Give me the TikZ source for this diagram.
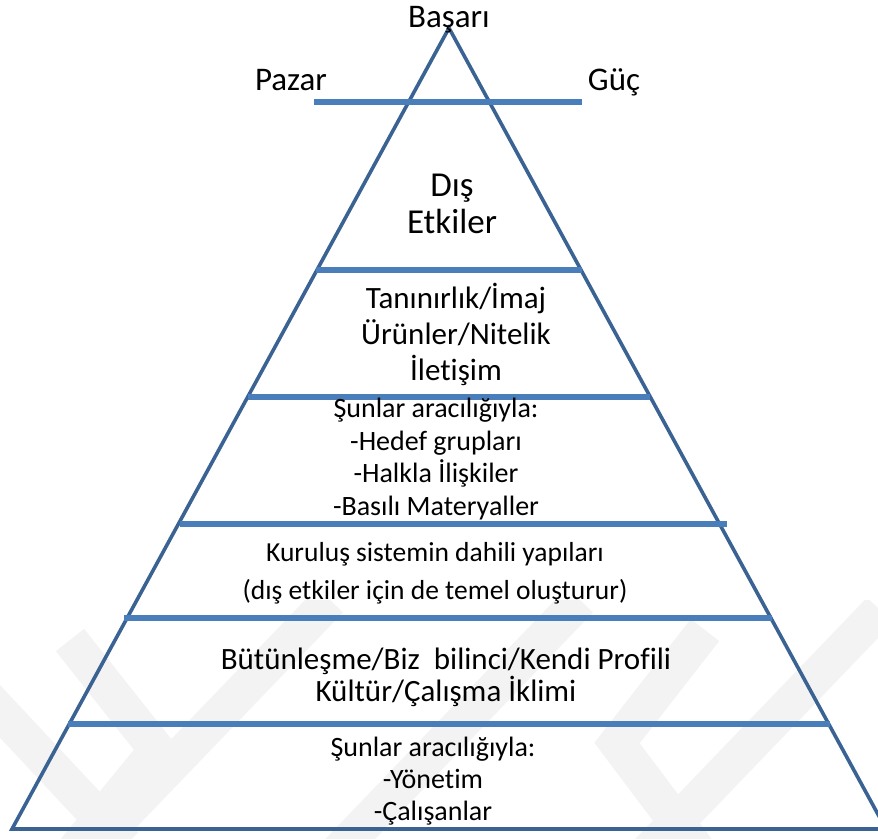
\documentclass[tikz,border=0pt]{standalone}
\usepackage{fontspec}
\setmainfont{Carlito}[Ligatures=NoCommon]
\begin{document}
\begin{tikzpicture}[x=1pt,y=-1pt,
  edge/.style={draw=edgeblue,line width=3.6pt,line join=miter},
  tier/.style={draw=tierblue,line width=5.2pt},
  emblem/.style={draw=wmgray,line width=36pt,line join=miter},
  lbl/.style={inner sep=0pt,align=center,text=black}]
\definecolor{edgeblue}{HTML}{3A6393}
\definecolor{tierblue}{HTML}{4A7EBB}
\definecolor{wmgray}{HTML}{F3F3F3}
\useasboundingbox (0,0) rectangle (878,838);

% faint background emblem
\begin{scope}
  \clip (0,600) rectangle (878,838);
  \draw[emblem] (-20,690) -- (125,845);
  \draw[emblem] (70,640) -- (157,750) -- (75,850);
  \draw[emblem] (80,860) -- (330,600);
  \draw[emblem] (330,860) -- (580,600);
  \draw[emblem] (705,630) -- (617,743) -- (705,860);
  \draw[emblem] (640,860) -- (880,610);
\end{scope}

% pyramid outline
\coordinate (apex) at (449,28);
\coordinate (bl) at (12,829);
\coordinate (br) at (886,829);
\draw[edge] (bl) -- (apex) -- (br) -- cycle;

% tier boundaries
\coordinate (t1a) at (314,102); \coordinate (t1b) at (582,102);
\coordinate (t2a) at (316,270); \coordinate (t2b) at (582,270);
\coordinate (t3a) at (248,397); \coordinate (t3b) at (650,397);
\coordinate (t4a) at (180,524); \coordinate (t4b) at (727,524);
\coordinate (t5a) at (124,618); \coordinate (t5b) at (772,618);
\coordinate (t6a) at (68,724);  \coordinate (t6b) at (830,724);
\draw[tier] (t1a) -- (t1b);
\draw[tier] (t2a) -- (t2b);
\draw[tier] (t3a) -- (t3b);
\draw[tier] (t4a) -- (t4b);
\draw[tier] (t5a) -- (t5b);
\draw[tier] (t6a) -- (t6b);

% labels around the apex
\node[lbl,anchor=base,font=\fontsize{33}{38}\selectfont] (basari) at (449,27) {Başarı};
\node[lbl,anchor=base,font=\fontsize{33}{38}\selectfont] (pazar) at (291,90) {Pazar};
\node[lbl,anchor=base,font=\fontsize{33}{38}\selectfont] (guc) at (614,90) {Güç};

% tier texts
\node[lbl,font=\fontsize{35}{37}\selectfont] (dis) at (452,204)
  {Dış\\Etkiler};
\node[lbl,font=\fontsize{31}{36}\selectfont] (imaj) at (456,334)
  {Tanınırlık/İmaj\\Ürünler/Nitelik\\İletişim};
\node[lbl,font=\fontsize{28}{32.5}\selectfont] (araci1) at (436,459)
  {Şunlar aracılığıyla:\\-Hedef grupları\\-Halkla İlişkiler\\-Basılı Materyaller};
\node[lbl,font=\fontsize{27.5}{38}\selectfont] (kurulus) at (435,573)
  {Kuruluş sistemin dahili yapıları\\(dış etkiler için de temel oluşturur)};
\node[lbl,font=\fontsize{31}{32}\selectfont] (butun) at (446,677)
  {Bütünleşme/Biz\ \ bilinci/Kendi Profili\\Kültür/Çalışma İklimi};
\node[lbl,font=\fontsize{28}{32}\selectfont] (araci2) at (433,781)
  {Şunlar aracılığıyla:\\-Yönetim\\-Çalışanlar};
\end{tikzpicture}
\end{document}
